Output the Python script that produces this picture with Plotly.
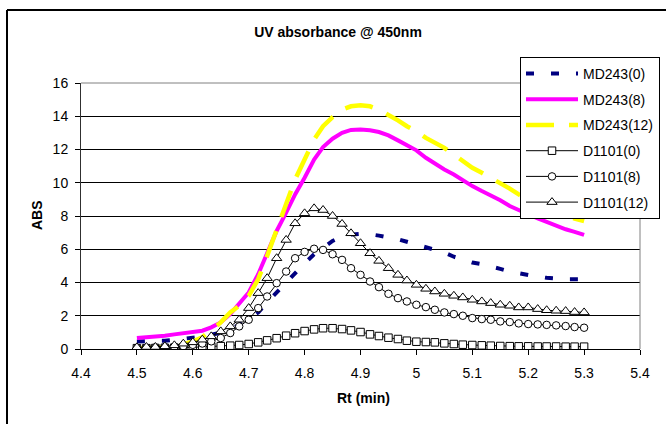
import plotly.graph_objects as go

rt = [4.500, 4.517, 4.533, 4.550, 4.567, 4.583, 4.600, 4.617, 4.633, 4.650,
      4.667, 4.683, 4.700, 4.717, 4.733, 4.750, 4.767, 4.783, 4.800, 4.817,
      4.833, 4.850, 4.867, 4.883, 4.900, 4.917, 4.933, 4.950, 4.967, 4.983,
      5.000, 5.017, 5.033, 5.050, 5.067, 5.083, 5.100, 5.117, 5.133, 5.150,
      5.167, 5.183, 5.200, 5.217, 5.233, 5.250, 5.267, 5.283, 5.300]

md243_0 = [0.45, 0.45, 0.48, 0.50, 0.55, 0.60, 0.66, 0.75, 0.85, 0.98,
           1.20, 1.45, 1.80, 2.20, 2.80, 3.40, 4.00, 4.60, 5.15, 5.70,
           6.10, 6.50, 6.75, 6.88, 6.92, 6.90, 6.82, 6.72, 6.60, 6.45,
           6.30, 6.15, 5.98, 5.80, 5.55, 5.35, 5.20, 5.10, 4.98, 4.82,
           4.66, 4.55, 4.42, 4.35, 4.28, 4.22, 4.20, 4.20, 4.20]

md243_8 = [0.66, 0.70, 0.75, 0.80, 0.88, 0.95, 1.00, 1.10, 1.30, 1.60,
           2.10, 2.70, 3.40, 4.50, 5.80, 7.10, 8.20, 9.30, 10.30, 11.40,
           12.15, 12.65, 13.00, 13.18, 13.20, 13.16, 13.05, 12.85, 12.55, 12.25,
           11.95, 11.50, 11.15, 10.80, 10.50, 10.15, 9.80, 9.50, 9.25, 8.95,
           8.60, 8.35, 8.10, 7.85, 7.65, 7.40, 7.20, 7.05, 6.86]

md243_12 = [0.05, 0.06, 0.08, 0.10, 0.13, 0.28, 0.45, 0.70, 1.10, 1.60,
            2.20, 2.60, 3.20, 4.20, 5.60, 7.20, 8.60, 10.20, 11.40, 12.60,
            13.40, 13.95, 14.40, 14.60, 14.66, 14.60, 14.40, 14.10, 13.75, 13.40,
            13.10, 12.70, 12.40, 12.10, 11.70, 11.30, 10.90, 10.60, 10.30, 10.00,
            9.65, 9.30, 9.00, 8.70, 8.45, 8.20, 8.00, 7.85, 7.70]

d1101_0 = [0.05, 0.05, 0.06, 0.07, 0.08, 0.09, 0.10, 0.12, 0.14, 0.17,
           0.20, 0.24, 0.30, 0.40, 0.52, 0.65, 0.80, 0.95, 1.08, 1.18,
           1.25, 1.25, 1.20, 1.12, 1.02, 0.88, 0.78, 0.68, 0.60, 0.50,
           0.44, 0.42, 0.40, 0.34, 0.30, 0.26, 0.24, 0.22, 0.20, 0.18,
           0.17, 0.16, 0.16, 0.15, 0.15, 0.15, 0.14, 0.14, 0.14]

d1101_8 = [0.05, 0.06, 0.10, 0.12, 0.13, 0.17, 0.25, 0.33, 0.46, 0.66,
           0.96, 1.36, 1.76, 2.46, 3.16, 3.96, 4.66, 5.46, 5.84, 6.03,
           5.96, 5.70, 5.36, 4.86, 4.46, 4.06, 3.72, 3.32, 3.06, 2.86,
           2.66, 2.52, 2.36, 2.20, 2.10, 2.00, 1.86, 1.80, 1.76, 1.66,
           1.62, 1.54, 1.50, 1.48, 1.45, 1.42, 1.38, 1.32, 1.28]

d1101_12 = [0.10, 0.12, 0.12, 0.16, 0.22, 0.32, 0.40, 0.56, 0.76, 1.06,
            1.36, 1.76, 2.46, 3.36, 4.26, 5.46, 6.56, 7.56, 8.16, 8.46,
            8.36, 8.00, 7.52, 6.96, 6.36, 5.76, 5.30, 4.86, 4.46, 4.12,
            3.86, 3.62, 3.46, 3.32, 3.20, 3.10, 2.96, 2.86, 2.76, 2.66,
            2.60, 2.50, 2.50, 2.40, 2.33, 2.30, 2.28, 2.22, 2.20]

x_ticks = [4.4, 4.5, 4.6, 4.7, 4.8, 4.9, 5.0, 5.1, 5.2, 5.3, 5.4]
x_tick_text = ["4.4", "4.5", "4.6", "4.7", "4.8", "4.9", "5", "5.1", "5.2", "5.3", "5.4"]
y_ticks = [0, 2, 4, 6, 8, 10, 12, 14, 16]

FONT = "Liberation Sans, Arial, sans-serif"

fig = go.Figure()

line_series = [
    ("MD243(0)", md243_0, "#000080", "8px,17px", 4),
    ("MD243(8)", md243_8, "#FF00FF", "solid", 4),
    ("MD243(12)", md243_12, "#FFFF00", "28px,15px", 4.5),
]
for i, (name, vals, col, dash, w) in enumerate(line_series):
    fig.add_trace(go.Scatter(
        x=rt, y=vals, mode="lines", name=name, legendgroup=f"g{i}",
        line=dict(color=col, width=w, dash=dash),
    ))

marker_series = [
    ("D1101(0)", d1101_0, "square"),
    ("D1101(8)", d1101_8, "circle"),
    ("D1101(12)", d1101_12, "triangle-up"),
]
for i, (name, vals, sym) in enumerate(marker_series):
    fig.add_trace(go.Scatter(
        x=rt, y=vals, mode="lines+markers", name=name, legendgroup=f"m{i}",
        line=dict(color="black", width=1),
        marker=dict(symbol=sym, size=7.5 if sym != "triangle-up" else 9,
                    color="white", line=dict(color="black", width=1)),
    ))

fig.update_layout(
    width=666, height=424,
    margin=dict(l=81, r=26, t=83, b=75, autoexpand=False),
    paper_bgcolor="white", plot_bgcolor="white",
    font=dict(family=FONT, size=14, color="black"),
    title=dict(text="<b>UV absorbance @ 450nm</b>", x=338/666, xref="container",
               xanchor="center", y=1 - 32/424, yref="container", yanchor="middle",
               font=dict(size=14, family=FONT, color="black")),
    showlegend=True,
    legend=dict(x=(520-81)/559, y=(349-57)/266, xanchor="left", yanchor="top",
                bgcolor="white", bordercolor="black", borderwidth=1,
                font=dict(size=14, family=FONT, color="black"),
                tracegroupgap=4.5, itemwidth=52, traceorder="grouped"),
    xaxis=dict(range=[4.4, 5.4], tickvals=x_ticks, ticktext=x_tick_text,
               showgrid=False, zeroline=False, showline=True, linecolor="black",
               linewidth=1, ticks="outside", ticklen=5, tickcolor="black",
               ticklabelstandoff=6,
               tickfont=dict(size=14, family=FONT, color="black")),
    yaxis=dict(range=[0, 16], tickvals=y_ticks, showgrid=True, gridcolor="black",
               gridwidth=1, zeroline=False, showline=True, linecolor="#303030",
               linewidth=1, ticks="outside", ticklen=5, tickcolor="black",
               ticklabelstandoff=4,
               tickfont=dict(size=14, family=FONT, color="black")),
    annotations=[
        dict(text="<b>ABS</b>", x=(37-81)/559, y=(349-215)/266, xref="paper", yref="paper",
             showarrow=False, textangle=-90, font=dict(size=14, family=FONT, color="black"),
             xanchor="center", yanchor="middle"),
        dict(text="<b>Rt (min)</b>", x=(363-81)/559, y=(349-398)/266, xref="paper", yref="paper",
             showarrow=False, font=dict(size=14, family=FONT, color="black"),
             xanchor="center", yanchor="middle"),
    ],
    shapes=[
        dict(type="line", xref="paper", yref="paper", x0=0, x1=1, y0=1, y1=1,
             line=dict(color="#808080", width=1)),
        dict(type="line", xref="paper", yref="paper", x0=1, x1=1, y0=0, y1=1,
             line=dict(color="#808080", width=1)),
        dict(type="line", xref="paper", yref="paper", x0=(7-81)/559, x1=(666-81)/559,
             y0=(349-10)/266, y1=(349-10)/266, line=dict(color="black", width=2)),
        dict(type="line", xref="paper", yref="paper", x0=(7-81)/559, x1=(7-81)/559,
             y0=(349-10)/266, y1=(349-424)/266, line=dict(color="black", width=2)),
    ],
)

fig.write_html("out.html")
